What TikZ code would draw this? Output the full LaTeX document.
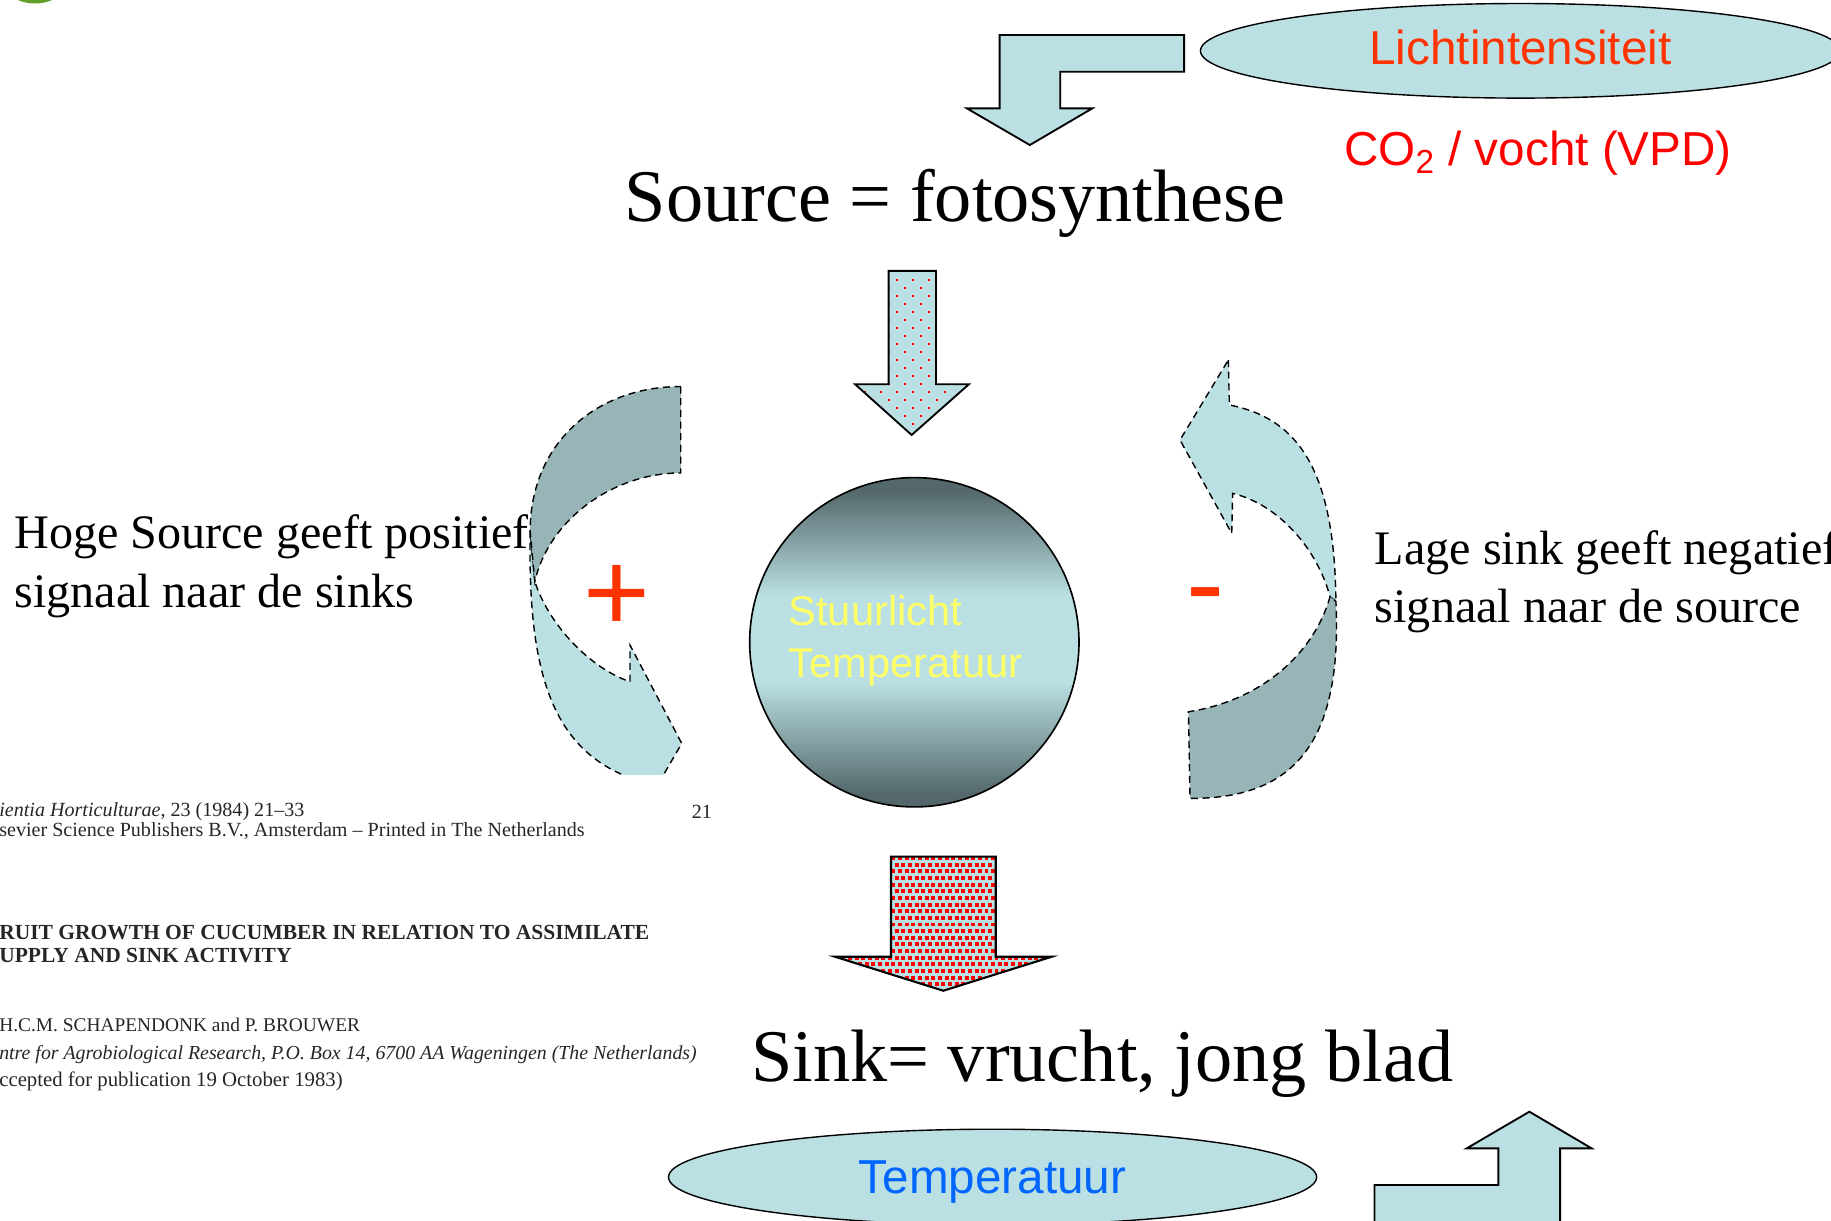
\documentclass[tikz,border=0pt]{standalone}
\usepackage{fontspec}
\newfontfamily\timesfont{Liberation Serif}
\newfontfamily\arialfont{Liberation Sans}
\usetikzlibrary{shapes.geometric}

\definecolor{pale}{RGB}{187,224,227}
\definecolor{slate}{RGB}{151,180,182}
\definecolor{deepslate}{RGB}{84,104,107}
\definecolor{signred}{RGB}{255,51,0}
\definecolor{softyellow}{RGB}{255,255,102}
\definecolor{tempblue}{RGB}{0,102,255}
\definecolor{leaf}{RGB}{98,158,42}

\pgfdeclareverticalshading{hubshade}{100bp}{color(0bp)=(deepslate); color(27bp)=(deepslate);
  color(44bp)=(pale); color(57bp)=(pale); color(73bp)=(deepslate); color(100bp)=(deepslate)}

\begin{document}
\begin{tikzpicture}[x=0.5pt, y=-0.5pt,
    bigtext/.style={font=\timesfont\fontsize{31.8}{38}\selectfont, inner sep=0pt},
    sidetext/.style={font=\timesfont\fontsize{20.6}{25}\selectfont, align=left, anchor=base west, inner sep=0pt},
    factor/.style={ellipse, draw=black, fill=pale, line width=0.6pt, text depth=0pt, font=\arialfont\fontsize{20.4}{24}\selectfont},
    sign/.style={font=\arialfont\fontsize{49}{50}\selectfont, text=signred, anchor=base, inner sep=0pt},
    blockarrow/.style={draw=black, fill=pale, line width=0.8pt, line join=miter},
    twist/.style={draw=black, dash pattern=on 3pt off 2pt, line width=0.6pt},
    cite/.style={font=\timesfont\fontsize{8.6}{9}\selectfont, anchor=base west, inner sep=0pt, text=black!85},
    citebold/.style={cite, font=\timesfont\fontsize{9.2}{10}\selectfont\bfseries}
  ]
  \useasboundingbox (0,0) rectangle (1568,1045);
  \clip (0,0) rectangle (1568,1045);

  \fill[leaf] (30,-10) ellipse [x radius=23, y radius=13];

  \draw[blockarrow] (1014,30) -- (1014,61.4) -- (908,61.4) -- (908,92.8) -- (935.4,92.8)
    -- (881.9,124.2) -- (828,92.8) -- (856,92.8) -- (856,30) -- cycle;
  \node[factor, minimum width=274pt, minimum height=40.5pt, text depth=3.4pt, text=signred] (light) at (1302,43.5) {Lichtintensiteit};
  \node[font=\arialfont\fontsize{20.4}{24}\selectfont, text=red, anchor=base] (co2) at (1317,142) {CO\textsubscript{2} / vocht (VPD)};

  \node[bigtext, anchor=base] (source) at (818,190) {Source = fotosynthese};

  \draw[blockarrow, path picture={
      \foreach \r in {0,...,20}
        \foreach \c in {0,...,8}
          \fill[red] ({725.9+13.7*\c+6.85*mod(\r,2)},{238.7+6.85*\r}) rectangle +(1.6,1.6);
    }]
    (761,232) -- (801.6,232) -- (801.6,329) -- (829.8,329) -- (780.7,372.5) -- (732.2,329) -- (761,329) -- cycle;

  \node[sidetext] (high) at (12,520) {Hoge Source geeft positief\\signaal naar de sinks};
  \node[sidetext] (low) at (1177,533) {Lage sink geeft negatief\\signaal naar de source};

  \begin{scope}
    \clip (0,0) rectangle (1568,663);
    \draw[twist, fill=pale] (454,455) .. controls (452,570) and (470,640) .. (539.5,666) -- (539.5,713)
      -- (583.8,636.6) -- (539.5,552.4) -- (539.5,583.8) .. controls (505,572) and (470,535) .. (458,498) -- cycle;
    \draw[twist, fill=slate] (583,331) -- (583,405) .. controls (525,405) and (470,445) .. (458,498)
      -- (454,455) .. controls (454,380) and (510,331) .. (583,331) -- cycle;
  \end{scope}
  \draw[twist, fill=pale] (1051.9,308.3) -- (1052.8,346.8) .. controls (1110,358) and (1143,400) .. (1144,515)
    -- (1139,511) .. controls (1128,470) and (1095,432) .. (1055.6,422.5) -- (1054.8,456.7) -- (1010.5,376.8) -- cycle;
  \draw[twist, fill=slate] (1139,511) .. controls (1125,560) and (1080,600) .. (1017.7,609.5)
    -- (1019.1,683.7) .. controls (1105,684) and (1150,640) .. (1144,515) -- cycle;

  \node[sign] (plus) at (528,541) {+};
  \node[sign] (minus) at (1032.5,533) {-};

  \node[circle, draw=black, line width=0.7pt, minimum size=141pt, shading=hubshade] (hub) at (783,550) {};
  \node[font=\arialfont\fontsize{17.8}{22}\selectfont, text=softyellow, align=left, anchor=base west, inner sep=0pt]
    (hubtext) at (675,580) {Stuurlicht\\Temperatuur};

  \node[cite] (journal) at (-1,699) {\textit{ientia Horticulturae}, 23 (1984) 21\textendash33};
  \node[cite, anchor=base east] (page) at (610,701) {21};
  \node[cite] (publisher) at (-1,716) {sevier Science Publishers B.V., Amsterdam \textendash\ Printed in The Netherlands};
  \node[citebold] (title) at (-1,804.4) {RUIT GROWTH OF CUCUMBER IN RELATION TO ASSIMILATE};
  \node[citebold] (titlecont) at (-1,824.4) {UPPLY AND SINK ACTIVITY};
  \node[cite, font=\timesfont\fontsize{8.3}{9}\selectfont] (authors) at (-1,883.5) {H.C.M. SCHAPENDONK and P. BROUWER};
  \node[cite, font=\timesfont\fontsize{8.5}{9}\selectfont\itshape] (affil) at (-1,907.2) {ntre for Agrobiological Research, P.O. Box 14, 6700 AA Wageningen (The Netherlands)};
  \node[cite, font=\timesfont\fontsize{8.9}{9}\selectfont] (accepted) at (-1,930.6) {ccepted for publication 19 October 1983)};

  \draw[blockarrow, line width=0.9pt, path picture={
      \foreach \r in {0,...,20}
        \foreach \c in {0,...,34}
          \fill[red] ({712+5.7*\c+2.85*mod(\r,2)},{733+5.7*\r}) rectangle +(3.4,3.4);
    }]
    (763,733.6) -- (852.7,733.6) -- (852.7,819.3) -- (900.6,819.3) -- (807.8,848.4) -- (715.1,819.3) -- (763,819.3) -- cycle;

  \node[bigtext, anchor=base west] (sink) at (643,926) {Sink= vrucht, jong blad};

  \node[factor, minimum width=277.5pt, minimum height=41pt, text=tempblue] (temp) at (850,1008) {Temperatuur};
  \draw[blockarrow] (1177,1014.8) -- (1283.1,1014.8) -- (1283.1,983.4) -- (1256,983.4) -- (1309.7,952)
    -- (1363,983.4) -- (1336,983.4) -- (1336,1060) -- (1177,1060) -- cycle;
\end{tikzpicture}
\end{document}
